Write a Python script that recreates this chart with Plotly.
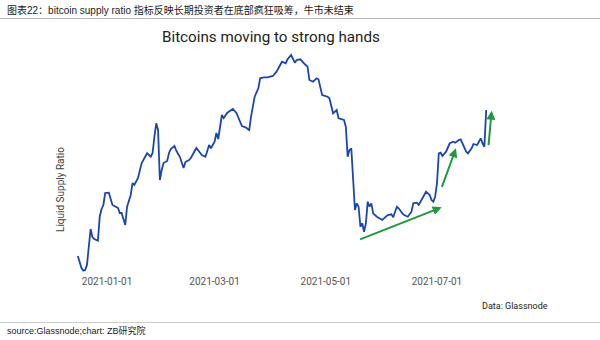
import plotly.graph_objects as go

# ---------------- data (y in arbitrary index units) ----------------
dates = [
    "2020-12-16", "2020-12-18", "2020-12-19", "2020-12-20", "2020-12-21", "2020-12-22",
    "2020-12-23", "2020-12-24", "2020-12-25", "2020-12-27", "2020-12-28", "2020-12-29",
    "2020-12-30", "2020-12-31", "2021-01-02", "2021-01-03", "2021-01-04", "2021-01-05",
    "2021-01-07", "2021-01-08", "2021-01-09", "2021-01-11", "2021-01-12", "2021-01-14",
    "2021-01-15", "2021-01-16", "2021-01-18", "2021-01-20", "2021-01-22", "2021-01-23",
    "2021-01-25", "2021-01-26", "2021-01-27", "2021-01-28", "2021-01-29", "2021-01-30",
    "2021-01-31", "2021-02-01", "2021-02-03", "2021-02-04", "2021-02-05", "2021-02-07",
    "2021-02-08", "2021-02-10", "2021-02-12", "2021-02-13", "2021-02-15", "2021-02-16",
    "2021-02-19", "2021-02-20", "2021-02-22", "2021-02-24", "2021-02-26", "2021-02-27",
    "2021-03-01", "2021-03-02", "2021-03-03", "2021-03-05", "2021-03-06", "2021-03-08",
    "2021-03-09", "2021-03-11", "2021-03-13", "2021-03-14", "2021-03-16", "2021-03-18",
    "2021-03-20", "2021-03-21", "2021-03-23", "2021-03-25", "2021-03-26", "2021-03-28",
    "2021-03-30", "2021-04-02", "2021-04-04", "2021-04-06", "2021-04-07", "2021-04-09",
    "2021-04-10", "2021-04-12", "2021-04-13", "2021-04-14", "2021-04-15", "2021-04-17",
    "2021-04-20", "2021-04-21", "2021-04-22", "2021-04-24", "2021-04-26", "2021-04-27",
    "2021-04-29", "2021-05-02", "2021-05-03", "2021-05-04", "2021-05-05", "2021-05-07",
    "2021-05-08", "2021-05-11", "2021-05-12", "2021-05-13", "2021-05-14", "2021-05-15",
    "2021-05-16", "2021-05-17", "2021-05-18", "2021-05-19", "2021-05-20", "2021-05-21",
    "2021-05-22", "2021-05-23", "2021-05-24", "2021-05-25", "2021-05-26", "2021-05-27",
    "2021-05-29", "2021-06-01", "2021-06-03", "2021-06-04", "2021-06-06", "2021-06-07",
    "2021-06-09", "2021-06-10", "2021-06-12", "2021-06-13", "2021-06-15", "2021-06-17",
    "2021-06-18", "2021-06-20", "2021-06-21", "2021-06-22", "2021-06-24", "2021-06-25",
    "2021-06-27", "2021-06-28", "2021-06-29", "2021-06-30", "2021-07-01", "2021-07-02",
    "2021-07-03", "2021-07-04", "2021-07-06", "2021-07-08", "2021-07-10", "2021-07-11",
    "2021-07-13", "2021-07-14", "2021-07-15", "2021-07-17", "2021-07-18", "2021-07-20",
    "2021-07-21", "2021-07-23", "2021-07-24", "2021-07-25", "2021-07-26", "2021-07-27",
    "2021-07-28",
]
liquid_supply = [
    44, 32, 29.3, 30, 35, 50,
    71, 63, 61, 59.3, 83.3, 91,
    95, 107, 107.3, 101, 95, 94,
    92, 87, 87, 75, 93.3, 105,
    117, 115, 122, 137, 143.3, 146.7,
    143.3, 147, 163.3, 176.7, 170, 120,
    130, 137, 139, 147, 151, 154,
    149.3, 143, 132, 138, 140, 142,
    152, 150, 145, 143.3, 155, 151.7,
    158.3, 167, 161, 185, 182, 187.3,
    188.3, 191, 187, 182, 174, 172.7,
    170, 183.3, 203.3, 211.7, 221.7, 222.7,
    222.7, 224, 228.3, 235, 238.3, 236.7,
    240.7, 245, 241.7, 237.3, 240, 240.7,
    235, 233.3, 220, 218.3, 221.7, 220.7,
    205, 203.3, 201.7, 193.3, 186.7, 190,
    181.7, 180, 173.3, 143.3, 150, 151.7,
    120, 90, 96.7, 93.3, 73.3, 76.7,
    68.3, 76.7, 98.3, 93.3, 96.7, 86.7,
    83.3, 80, 83.3, 85, 85.7, 82.7,
    93.3, 91.7, 86.7, 85, 83.3, 88.3,
    96.7, 97.3, 95, 98.3, 105, 108.3,
    105, 100, 98.3, 103.3, 116.7, 146.7,
    147.3, 144, 148.3, 156.7, 158.3, 157.3,
    160, 160.7, 156.7, 148.3, 146.7, 151.7,
    156, 155, 158.3, 161.7, 156.7, 153.3,
    190,
]

tick_vals = ["2021-01-01", "2021-03-01", "2021-05-01", "2021-07-01"]
tick_text = ["2021-01-01", "2021-03-01", "2021-05-01", "2021-07-01"]

# trend arrows: (tail date, tail value) -> (head date, head value)
arrow_tail_x = ["2021-05-19 00:00", "2021-07-03 10:00", "2021-07-29 05:00"]
arrow_tail_y = [60, 111.7, 153.3]
arrow_head_x = ["2021-07-03 14:00", "2021-07-11 10:00", "2021-07-31 00:00"]
arrow_head_y = [92.7, 151.7, 189.3]

header_text = "图表22：bitcoin supply ratio 指标反映长期投资者在底部疯狂吸筹，牛市未结束"
chart_title = "Bitcoins moving to strong hands"
y_title = "Liquid Supply Ratio"
data_note = "Data: Glassnode"
footer_text = "source:Glassnode;chart: ZB研究院"

# ---------------- layout helpers ----------------
W, H = 600, 340
L, R, T, B = 72, 80, 40, 66
PW, PH = W - L - R, H - T - B


def px(x):
    return (x - L) / PW


def py(y):
    return (H - B - y) / PH


LINE_BLUE = "#1b45b1"
GREEN = "#1f9a3d"
FONT = "Roboto, 'Noto Sans CJK SC', sans-serif"

fig = go.Figure()
fig.add_trace(go.Scatter(
    x=dates, y=liquid_supply, mode="lines",
    line=dict(color=LINE_BLUE, width=1.8),
    hoverinfo="skip", showlegend=False,
))

annotations = []
for tx, ty, hx, hy in zip(arrow_tail_x, arrow_tail_y, arrow_head_x, arrow_head_y):
    annotations.append(dict(
        x=hx, y=hy, ax=tx, ay=ty, xref="x", yref="y", axref="x", ayref="y",
        text="", showarrow=True, arrowhead=2, arrowsize=0.9, arrowwidth=2,
        arrowcolor=GREEN, standoff=0, startstandoff=0,
    ))

annotations += [
    dict(text=header_text, x=px(5), y=py(9.5), xref="paper", yref="paper",
         xanchor="left", yanchor="middle", showarrow=False,
         font=dict(family="'Liberation Sans', 'Noto Sans CJK SC', sans-serif", size=10, color="#1a1a1a")),
    dict(text=chart_title, x=px(270.5), y=py(37), xref="paper", yref="paper",
         xanchor="center", yanchor="middle", showarrow=False,
         font=dict(family=FONT, size=15.2, color="#222222")),
    dict(text=y_title, x=px(60), y=py(190), xref="paper", yref="paper",
         xanchor="center", yanchor="middle", textangle=-90, showarrow=False,
         font=dict(family=FONT, size=10, color="#444444")),
    dict(text=data_note, x=px(480), y=py(306), xref="paper", yref="paper",
         xanchor="left", yanchor="middle", showarrow=False,
         font=dict(family=FONT, size=9, color="#222222")),
    dict(text=footer_text, x=px(5), y=py(330), xref="paper", yref="paper",
         xanchor="left", yanchor="middle", showarrow=False,
         font=dict(family="'Liberation Sans', 'Noto Sans CJK SC', sans-serif", size=9, color="#1a1a1a")),
]

shapes = [
    dict(type="line", xref="paper", yref="paper", x0=px(0), x1=px(600), y0=py(18.5), y1=py(18.5),
         line=dict(color="#b8b8b8", width=1)),
    dict(type="line", xref="paper", yref="paper", x0=px(0), x1=px(600), y0=py(322.5), y1=py(322.5),
         line=dict(color="#cccccc", width=1)),
]

fig.update_layout(
    width=W, height=H,
    margin=dict(l=L, r=R, t=T, b=B, pad=0),
    paper_bgcolor="white", plot_bgcolor="white",
    annotations=annotations, shapes=shapes,
    xaxis=dict(
        type="date", range=["2020-12-12 19:00", "2021-08-15 13:00"],
        tickmode="array", tickvals=tick_vals, ticktext=tick_text,
        tickfont=dict(family=FONT, size=10, color="#555555"),
        showgrid=False, zeroline=False, showline=False, ticks="",
    ),
    yaxis=dict(range=[26, 260], visible=False, showgrid=False, zeroline=False),
    showlegend=False,
)

fig.write_html("out.html", config={"displayModeBar": False})
